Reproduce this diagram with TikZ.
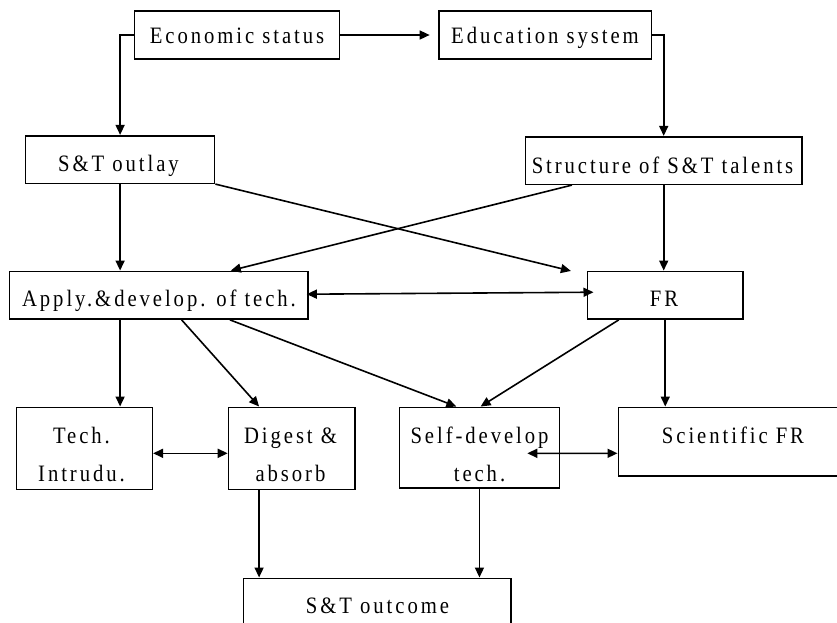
\documentclass[tikz,border=0pt]{standalone}
\usepackage{fontspec}
\setmainfont{Liberation Serif}[FakeStretch=0.88, LetterSpace=12.5]
\usetikzlibrary{arrows.meta,calc}
\tikzset{
  box/.style={draw, line width=1.6pt, inner sep=0pt},
  txt/.style={inner sep=0pt, anchor=base, font=\fontsize{23.5}{28}\selectfont},
  arr/.style={line width=1.6pt, -{Triangle[length=10pt,width=9pt]}},
  darr/.style={line width=1.6pt, {Triangle[length=10pt,width=9pt]}-{Triangle[length=10pt,width=9pt]}}
}
\begin{document}
\begin{tikzpicture}[x=1pt,y=-1pt]
\useasboundingbox (0,0) rectangle (837,622);
\fill[white] (0,0) rectangle (837,622);
\clip (0,0) rectangle (837,622);
% boxes
\node[box, minimum width=205pt, minimum height=48pt] (econ) at (237,35) {};
\node[box, minimum width=212.5pt, minimum height=48pt] (edu) at (545.2,35) {};
\node[box, minimum width=189pt, minimum height=47.6pt] (outlay) at (120.1,159.5) {};
\node[box, minimum width=276.6pt, minimum height=47.6pt] (struct) at (663.7,160.5) {};
\node[box, minimum width=298.4pt, minimum height=47.7pt] (apply) at (158.8,295.2) {};
\node[box, minimum width=155.9pt, minimum height=47.7pt] (fr) at (665.25,295.2) {};
\node[box, minimum width=136pt, minimum height=82pt] (tech) at (84.3,448.3) {};
\node[box, minimum width=126.5pt, minimum height=82pt] (digest) at (291.75,448.3) {};
\node[box, minimum width=160.1pt, minimum height=80.4pt] (self) at (479.45,447.5) {};
\node[box, minimum width=226.7pt, minimum height=68.7pt] (sci) at (731.65,441.65) {};
\node[box, minimum width=267.5pt, minimum height=58pt] (outcome) at (377.2,607.3) {};
% texts
\node[txt] (tEcon) at (237,43.3) {Economic status};
\node[txt] (tEdu) at (545,43.3) {Education system};
\node[txt] (tOutlay) at (118.5,171.5) {S\&T outlay};
\node[txt] (tStruct) at (662.5,173.3) {Structure of S\&T talents};
\node[txt] (tApply) at (159,306) {Apply.\&develop. of tech.};
\node[txt] (tFR) at (664,306) {FR};
\node[txt] (tTechA) at (81.5,443.3) {Tech.};
\node[txt] (tTechB) at (81.5,481.7) {Intrudu.};
\node[txt] (tDigA) at (290.5,443.3) {Digest \&};
\node[txt] (tDigB) at (290.5,481.7) {absorb};
\node[txt] (tSelfA) at (479.5,443.3) {Self-develop};
\node[txt] (tSelfB) at (479.5,481.7) {tech.};
\node[txt] (tSci) at (733,443.3) {Scientific FR};
\node[txt] (tOut) at (377.5,613.3) {S\&T outcome};
% connectors
\draw[arr] (econ.west) -| (outlay.north);
\draw[arr, shorten >=8.5pt] (econ.east) -- (edu.west);
\draw[arr] (edu.east) -| (struct.north);
\draw[arr] (outlay.south) -- (outlay.south |- apply.north);
\draw[arr] (struct.south) -- (struct.south |- fr.north);
\draw[arr] (outlay.south east) -- ($(fr.north west)+(-15.6,0.4)$);
\draw[arr] ($(struct.south west)!0.17!(struct.south east)$) -- ($(apply.north west)!0.74!(apply.north east)$);
\draw[darr] ($(apply.east)+(-2,-1)$) -- ($(fr.west)+(7,-3)$);
\draw[arr] (outlay.south |- apply.south) -- (outlay.south |- tech.north);
\draw[arr] ($(apply.south west)!0.576!(apply.south east)$) -- ($(digest.north west)!0.245!(digest.north east)$);
\draw[arr] ($(apply.south west)!0.737!(apply.south east)$) -- ($(self.north west)!0.357!(self.north east)$);
\draw[arr] ($(fr.south west)!0.205!(fr.south east)$) -- ($(self.north west)!0.507!(self.north east)$);
\draw[arr] (fr.south) -- (fr.south |- sci.north);
\draw[darr] ($(tech.east)+(0,5)$) -- ($(digest.west)+(0,5)$);
\draw[darr] ($(self.east)+(-33,5.8)$) -- ($(sci.west)+(0,11.65)$);
\coordinate (dg) at ($(digest.south west)!0.245!(digest.south east)$);
\draw[arr] (dg) -- (dg |- outcome.north);
\draw[arr] (self.south) -- (self.south |- outcome.north);
\end{tikzpicture}
\end{document}
